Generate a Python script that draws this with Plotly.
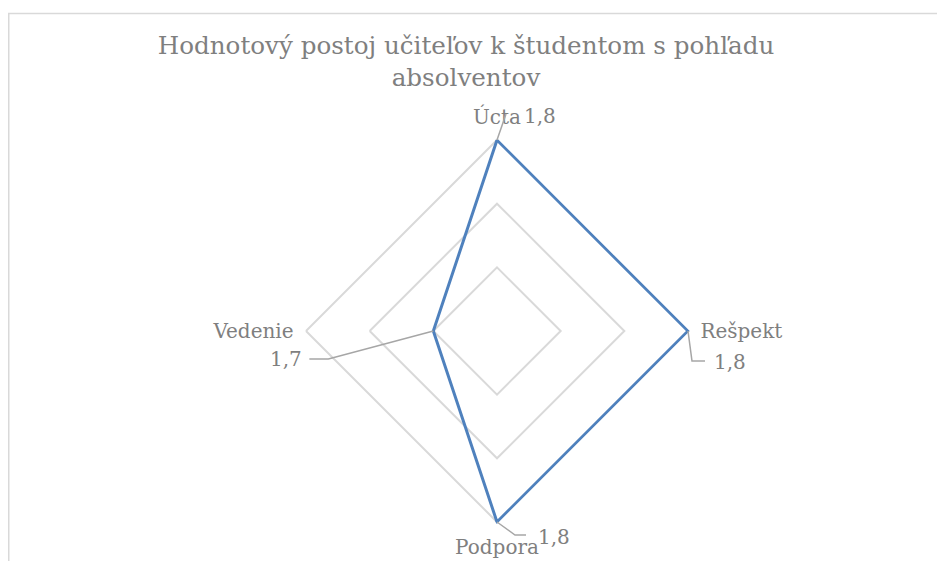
import math
import plotly.graph_objects as go

# ---- data ----
categories = ["Úcta", "Rešpekt", "Podpora", "Vedenie"]
values = [1.8, 1.8, 1.8, 1.7]
radial_ticks = [1.7, 1.75, 1.8]
radial_range = [1.65, 1.8015]   # tiny headroom so the outer line is not clipped
title_text = "Hodnotový postoj učiteľov k študentom s pohľadu<br>absolventov"

# ---- geometry / style ----
W, H = 945, 561
OFF = 8                    # default page body margin of the html page
CX, CY = 497 - OFF, 331 - OFF   # polar centre in figure pixels (from top-left)
PX_PER_UNIT = 191 / 0.15   # pixels per radial unit
R = (radial_range[1] - radial_range[0]) * PX_PER_UNIT   # radius at range max
FONT = "DejaVu Serif"
TXT = "#7f7f7f"
GRID = "#d9d9d9"
BLUE = "#4f81bd"
LEADER = "#a6a6a6"

# pixel offsets (y up) for value label and leader line per category
label_off = [(43, 24), (42, -31), (57, -15), (-147, -28)]
leader_paths = [
    [(0, 0), (9, 26)],
    [(0, 0), (4, -30), (17, -30)],
    [(0, 0), (18, -13), (29, -13)],
    [(0, 0), (-105, -28), (-124, -28)],
]

fig = go.Figure()
fig.add_trace(go.Scatterpolar(
    r=values + values[:1],
    theta=categories + categories[:1],
    mode="lines",
    line=dict(color=BLUE, width=3),
    cliponaxis=False,
    hoverinfo="skip",
    showlegend=False,
))

dom_x = [(CX - R) / W, (CX + R) / W]
dom_y = [(H - CY - R) / H, (H - CY + R) / H]

fig.update_layout(
    width=W, height=H,
    margin=dict(l=0, r=0, t=0, b=0),
    paper_bgcolor="white",
    plot_bgcolor="white",
    font=dict(family=FONT, color=TXT),
    title=dict(text=title_text, x=(466 - OFF) / W, xanchor="center", xref="paper",
               y=1 - 46 / H, yanchor="top",
               font=dict(family=FONT, size=24.6, color=TXT)),
    polar=dict(
        domain=dict(x=dom_x, y=dom_y),
        bgcolor="white",
        gridshape="linear",
        radialaxis=dict(range=radial_range, tickvals=radial_ticks,
                        showticklabels=False, ticks="", showline=False,
                        gridcolor=GRID, gridwidth=1.5, layer="below traces"),
        angularaxis=dict(rotation=90, direction="clockwise",
                         showgrid=False, showline=False,
                         ticks="outside", ticklen=6,
                         tickcolor="rgba(0,0,0,0)", layer="below traces",
                         tickfont=dict(family=FONT, size=20, color=TXT)),
    ),
)

# value labels with leader lines, positioned from data through the radial scale
n = len(categories)
shapes = [dict(type="rect", xref="paper", yref="paper",
               x0=0.75 / W, x1=1.02, y0=-0.02, y1=1 - (13.5 - OFF) / H,
               line=dict(color=GRID, width=1.5), fillcolor="rgba(0,0,0,0)",
               layer="below")]
annotations = []
for i, (cat, v) in enumerate(zip(categories, values)):
    ang = math.radians(90 - 360 * i / n)
    rp = (v - radial_range[0]) * PX_PER_UNIT
    px = CX + rp * math.cos(ang)
    py = (H - CY) + rp * math.sin(ang)
    ax, ay = px / W, py / H
    path = "M" + " L".join(f"{x},{y}" for x, y in leader_paths[i])
    shapes.append(dict(type="path", xref="paper", yref="paper",
                       xsizemode="pixel", ysizemode="pixel",
                       xanchor=ax, yanchor=ay, path=path,
                       line=dict(color=LEADER, width=1.5)))
    dx, dy = label_off[i]
    annotations.append(dict(x=ax, y=ay, xref="paper", yref="paper",
                            xanchor="center", yanchor="middle",
                            xshift=dx, yshift=dy, showarrow=False,
                            text=f"{v:.1f}".replace(".", ","),
                            font=dict(family=FONT, size=20, color=TXT)))

fig.update_layout(shapes=shapes, annotations=annotations)
fig.write_html("out.html")
